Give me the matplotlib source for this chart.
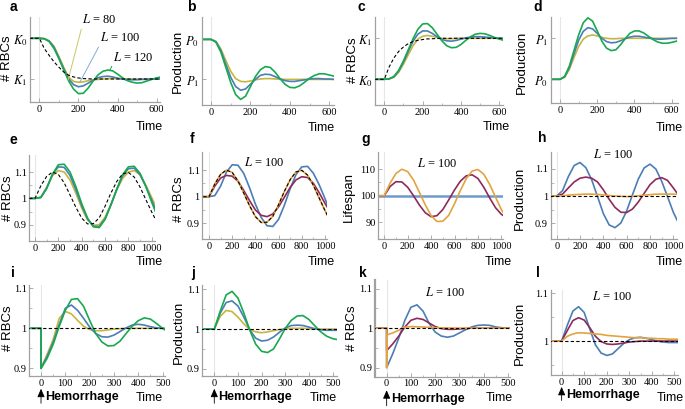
import matplotlib
matplotlib.use("Agg")
import matplotlib.pyplot as plt

W, H = 685, 409
plt.rcParams["font.family"] = "Liberation Serif"
plt.rcParams["mathtext.fontset"] = "stix"

YEL = "#c6b63e"
BLU = "#4b7db6"
GRN = "#18a94f"
ORA = "#e3a33e"
MAR = "#8d2a5b"

# ---------------- data ----------------
T600 = [-50, 0, 25, 50, 75, 100, 125, 150, 175, 200, 225, 250, 275, 300, 325,
        350, 375, 400, 425, 450, 475, 500, 525, 550, 575, 600, 625]

# a: RBCs after a step down in target (K0 -> K1 scaled to 1 -> 0)
a_dash = [1, 1, 0.75, 0.58, 0.42, 0.29, 0.17, 0.09, 0.05, 0.025, 0.01, 0.005, 0,
          0, 0, 0, 0, 0, 0, 0, 0, 0, 0, 0, 0, 0, 0]
a_green = [1, 1, 0.99, 0.92, 0.75, 0.5, 0.22, -0.05, -0.25, -0.36, -0.35, -0.22, -0.05,
           0.1, 0.19, 0.22, 0.2, 0.12, 0.03, -0.04, -0.08, -0.1, -0.09, -0.05, -0.01, 0.03, 0.05]
a_blue = [1, 1, 0.99, 0.93, 0.78, 0.52, 0.25, 0.0, -0.14, -0.19, -0.17, -0.1, -0.03,
          0.03, 0.06, 0.07, 0.05, 0.02, 0.0, -0.02, -0.02, -0.02, -0.01, -0.01, 0, 0, 0]
a_yellow = [1, 1, 0.99, 0.94, 0.8, 0.55, 0.28, 0.04, -0.06, -0.08, -0.07, -0.04, -0.02,
            -0.01, 0, 0.01, 0.01, 0.01, 0, 0, 0, 0, 0, 0, 0, 0, 0]

# b: production (P0 -> P1 scaled to 1 -> 0)
b_green = [1, 1, 0.93, 0.68, 0.3, -0.08, -0.38, -0.5, -0.42, -0.18, 0.07, 0.24, 0.32,
           0.3, 0.18, 0.02, -0.12, -0.2, -0.21, -0.16, -0.07, 0.03, 0.1, 0.14, 0.14, 0.11, 0.08]
b_blue = [1, 1, 0.94, 0.72, 0.38, 0.05, -0.18, -0.27, -0.24, -0.12, 0.0, 0.1, 0.13,
          0.12, 0.07, 0.01, -0.03, -0.05, -0.05, -0.03, -0.01, 0.01, 0.02, 0.02, 0.01, 0.01, 0]
b_yellow = [1, 1, 0.95, 0.76, 0.47, 0.2, 0.02, -0.05, -0.06, -0.04, -0.01, 0.01, 0.02,
            0.02, 0.01, 0.01, 0, 0, 0, 0, 0, 0, 0, 0, 0, 0, 0]

# c: RBCs after a step up (K0 -> K1 scaled to 0 -> 1)
c_dash = [0, 0, 0.3, 0.52, 0.68, 0.79, 0.87, 0.92, 0.95, 0.97, 0.985, 0.99, 0.995,
          1, 1, 1, 1, 1, 1, 1, 1, 1, 1, 1, 1, 1, 1]
c_green = [0, 0, 0.01, 0.07, 0.22, 0.45, 0.72, 0.99, 1.22, 1.35, 1.36, 1.26, 1.1,
           0.94, 0.82, 0.77, 0.78, 0.85, 0.95, 1.04, 1.1, 1.12, 1.11, 1.07, 1.02, 0.98, 0.95]
c_blue = [0, 0, 0.01, 0.06, 0.2, 0.42, 0.68, 0.93, 1.1, 1.18, 1.18, 1.12, 1.04,
          0.97, 0.94, 0.93, 0.95, 0.98, 1.01, 1.03, 1.04, 1.04, 1.03, 1.02, 1.01, 1.0, 1.0]
c_yellow = [0, 0, 0.01, 0.05, 0.17, 0.37, 0.6, 0.82, 0.98, 1.05, 1.07, 1.05, 1.02,
            1.0, 0.99, 0.99, 1, 1, 1, 1, 1, 1, 1, 1, 1, 1, 1]

# d: production (P0 -> P1 scaled to 0 -> 1)
d_green = [0, 0, 0.07, 0.32, 0.7, 1.08, 1.38, 1.5, 1.42, 1.18, 0.93, 0.76, 0.7,
           0.72, 0.84, 0.99, 1.12, 1.18, 1.18, 1.13, 1.05, 0.97, 0.91, 0.88, 0.88, 0.9, 0.93]
d_blue = [0, 0, 0.06, 0.28, 0.62, 0.95, 1.17, 1.26, 1.23, 1.12, 1.0, 0.92, 0.89,
          0.9, 0.94, 0.99, 1.03, 1.05, 1.05, 1.03, 1.01, 0.99, 0.98, 0.98, 0.99, 1.0, 1.0]
d_yellow = [0, 0, 0.05, 0.24, 0.53, 0.8, 0.98, 1.06, 1.08, 1.06, 1.02, 1.0, 0.99,
            0.99, 1.0, 1, 1, 1, 1, 1, 1, 1, 1, 1, 1, 1, 1]

T1000 = [-50, 0, 50, 100, 150, 200, 250, 300, 350, 400, 450, 500, 550, 600, 650,
         700, 750, 800, 850, 900, 950, 1000, 1050]

e_dash = [1, 1, 1.048, 1.084, 1.1, 1.091, 1.059, 1.013, 0.966, 0.925, 0.903, 0.904,
          0.926, 0.97, 1.02, 1.064, 1.093, 1.099, 1.081, 1.043, 0.995, 0.948, 0.905]
e_green = [1, 1, 1.003, 1.037, 1.092, 1.128, 1.13, 1.1, 1.045, 0.98, 0.925, 0.892,
           0.889, 0.92, 0.975, 1.035, 1.09, 1.12, 1.122, 1.095, 1.045, 0.985, 0.93]
e_blue = [1, 1, 1.004, 1.04, 1.092, 1.12, 1.118, 1.087, 1.033, 0.972, 0.922, 0.894,
          0.893, 0.922, 0.975, 1.033, 1.085, 1.113, 1.115, 1.09, 1.045, 0.993, 0.94]
e_yellow = [1, 1, 1.005, 1.042, 1.086, 1.106, 1.1, 1.07, 1.02, 0.963, 0.918, 0.898,
            0.9, 0.928, 0.977, 1.032, 1.076, 1.1, 1.106, 1.09, 1.05, 1.003, 0.955]

f_dash = e_dash
f_orange = [1, 1, 1.048, 1.084, 1.1, 1.091, 1.059, 1.013, 0.966, 0.925, 0.903, 0.904,
            0.926, 0.97, 1.02, 1.064, 1.093, 1.099, 1.081, 1.043, 0.995, 0.948, 0.905]
f_blue = [1, 1, 1.004, 1.04, 1.092, 1.12, 1.118, 1.087, 1.033, 0.972, 0.922, 0.891,
          0.888, 0.915, 0.968, 1.03, 1.083, 1.112, 1.114, 1.088, 1.045, 0.993, 0.94]
f_maroon = [1, 1, 1.04, 1.07, 1.08, 1.077, 1.058, 1.023, 0.985, 0.95, 0.93, 0.925,
            0.935, 0.962, 0.998, 1.035, 1.063, 1.075, 1.072, 1.05, 1.015, 0.975, 0.94]

g_orange = [100, 100, 104.8, 108.4, 110, 109.1, 105.9, 101.3, 96.6, 92.5, 90.3, 90.4,
            92.6, 97, 102, 106.4, 109.3, 109.9, 108.1, 104.3, 99.5, 94.8, 91.2]
g_maroon = [100, 100, 103.5, 105.3, 105.2, 103.2, 100, 96.5, 93.6, 92.1, 92.5, 94.8,
            98.4, 102.2, 105.5, 107.5, 107.9, 106.5, 103.2, 99.2, 95.5, 93.0, 91.5]
g_blue_t = [-50, 1050]
g_blue = [100, 100]

h_blue = [1, 1, 1.02, 1.072, 1.113, 1.124, 1.105, 1.06, 0.998, 0.935, 0.893, 0.883,
          0.9, 0.945, 1.005, 1.063, 1.104, 1.118, 1.1, 1.055, 0.998, 0.94, 0.895]
h_maroon = [1, 1, 1.007, 1.03, 1.052, 1.066, 1.07, 1.066, 1.052, 1.023, 0.988, 0.958,
            0.94, 0.939, 0.952, 0.978, 1.01, 1.042, 1.062, 1.068, 1.058, 1.03, 1.0]
h_orange = [1, 1, 1.001, 1.003, 1.005, 1.006, 1.007, 1.007, 1.006, 1.004, 1.002, 1.0,
            0.999, 0.998, 0.999, 1.001, 1.003, 1.005, 1.007, 1.007, 1.007, 1.007, 1.006]
flat_t = [-60, 1060]
flat_one = [1, 1]

# row 3: hemorrhage at t = 0 (drop listed twice at t = 0)
T500J = [-50, 0, 0, 25, 50, 75, 100, 125, 150, 175, 200, 225, 250, 275, 300, 325,
         350, 375, 400, 425, 450, 475, 500, 525]
T500 = [-50, 0, 25, 50, 75, 100, 125, 150, 175, 200, 225, 250, 275, 300, 325,
        350, 375, 400, 425, 450, 475, 500, 525]

i_green = [1, 1, 0.9, 0.925, 0.96, 1.005, 1.045, 1.072, 1.074, 1.055, 1.02, 0.987,
           0.966, 0.956, 0.957, 0.968, 0.987, 1.005, 1.019, 1.026, 1.023, 1.012, 1.0, 0.99]
i_blue = [1, 1, 0.9, 0.93, 0.965, 1.01, 1.05, 1.058, 1.045, 1.025, 1.003, 0.987,
          0.979, 0.978, 0.983, 0.992, 1.001, 1.008, 1.01, 1.008, 1.004, 1.001, 1.0, 0.999]
i_yellow = [1, 1, 0.9, 0.935, 0.972, 1.025, 1.042, 1.036, 1.02, 1.005, 0.997, 0.994,
            0.994, 0.996, 0.998, 0.999, 1, 1, 1, 1, 1, 1, 1, 1]

j_green = [1, 1, 1.045, 1.086, 1.095, 1.078, 1.04, 0.997, 0.962, 0.944, 0.941, 0.95,
           0.975, 1.002, 1.022, 1.033, 1.034, 1.024, 1.008, 0.993, 0.982, 0.976, 0.973]
j_blue = [1, 1, 1.04, 1.067, 1.071, 1.058, 1.03, 0.998, 0.977, 0.97, 0.972, 0.98,
          0.992, 1.003, 1.009, 1.01, 1.009, 1.005, 1.001, 0.998, 0.997, 0.997, 0.997]
j_yellow = [1, 1, 1.032, 1.047, 1.044, 1.03, 1.013, 0.999, 0.993, 0.991, 0.993, 0.996,
            0.999, 1.001, 1.002, 1.002, 1.002, 1.001, 1.001, 1.0, 1.0, 1.0, 1.0]

k_blue = [1, 1, 0.9, 0.935, 0.975, 1.02, 1.053, 1.059, 1.043, 1.012, 0.99, 0.98,
          0.977, 0.98, 0.988, 0.996, 1.003, 1.007, 1.008, 1.007, 1.003, 1.001, 1.0, 0.999]
k_maroon = [1, 1, 0.943, 0.96, 0.98, 1.003, 1.02, 1.025, 1.022, 1.013, 1.004, 0.999,
            0.997, 0.997, 0.998, 0.999, 1, 1, 1, 1, 1, 1, 1, 1]
k_orange_t = [-50, 0, 0, 2, 25, 50, 70, 100, 150, 200, 300, 525]
k_orange = [1, 1, 0.9, 0.983, 0.988, 0.995, 1.002, 1.004, 1.003, 1.001, 1.0, 1.0]

l_blue = [1, 1, 1.033, 1.063, 1.072, 1.06, 1.025, 0.992, 0.975, 0.97, 0.973, 0.984,
          0.995, 1.003, 1.007, 1.008, 1.006, 1.003, 1.0, 0.998, 0.997, 0.997, 0.997]
l_maroon = [1, 1, 1.022, 1.043, 1.049, 1.044, 1.028, 1.01, 0.999, 0.994, 0.993, 0.994,
            0.996, 0.998, 0.999, 1, 1, 1, 1, 1, 1, 1, 1]
l_orange = [1, 1, 1.01, 1.015, 1.0175, 1.017, 1.016, 1.015, 1.014, 1.012, 1.011, 1.01,
            1.009, 1.008, 1.007, 1.007, 1.006, 1.006, 1.005, 1.005, 1.004, 1.004, 1.004]

# ---------------- figure ----------------
fig = plt.figure(figsize=(W / 100, H / 100), dpi=100)


def rect(x0, x1, y0, y1):
    return [x0 / W, 1 - y1 / H, (x1 - x0) / W, (y1 - y0) / H]


def ftext(x, y, s, **kw):
    fig.text(x / W, 1 - y / H, s, **kw)


def panel(box, xlim, ylim, xticks, xminor, yticks, ylabels, yminor=()):
    ax = fig.add_axes(rect(*box))
    ax.patch.set_alpha(0)
    ax.set_xlim(xlim)
    ax.set_ylim(ylim)
    for s in ("top", "right"):
        ax.spines[s].set_visible(False)
    for s in ("left", "bottom"):
        ax.spines[s].set_color("#a0a0a0")
        ax.spines[s].set_linewidth(0.9)
    ax.set_xticks(xticks)
    ax.set_xticks(xminor, minor=True)
    ax.set_yticks(yticks)
    ax.set_yticklabels(ylabels)
    ax.set_yticks(list(yminor), minor=True)
    ax.tick_params(direction="in", length=3, width=0.6, color="#a0a0a0",
                   labelsize=7.5, pad=2)
    ax.tick_params(which="minor", direction="in", length=1.8, width=0.5,
                   color="#a0a0a0")
    ax.axvline(0, color="#e6e6e6", lw=0.8, zorder=0)
    return ax


def dashed(ax, t, v):
    ax.plot(t, v, color="black", lw=0.8, ls=(0, (3, 2)), zorder=5)


lw = 1.2
sans = "Liberation Sans"
X6 = [0, 200, 400, 600]
X6m = [100, 300, 500]
X10 = [0, 200, 400, 600, 800, 1000]
X10m = [100, 300, 500, 700, 900]
X5 = [0, 100, 200, 300, 400, 500]
X5m = [50, 150, 250, 350, 450]

# a
ax = panel((30, 160, 17, 102), (-48, 617), (-0.565, 1.523), X6, X6m,
           [0, 1], [r"$K_1$", r"$K_0$"])
ax.tick_params(axis="y", labelsize=9)
ax.plot(T600, a_yellow, color=YEL, lw=lw)
ax.plot(T600, a_blue, color=BLU, lw=lw)
ax.plot(T600, a_green, color=GRN, lw=lw)
dashed(ax, T600, a_dash)
for lab, xy, xyt, col in [("80", (147, -0.02), (218, 1.45), "#c9c760"),
                          ("100", (208, -0.07), (310, 1.01), "#86aad3"),
                          ("120", (361, 0.22), (377, 0.54), GRN)]:
    ax.annotate(r"$L$ = " + lab, xy=xy, xytext=xyt, fontsize=9, va="center",
                annotation_clip=False,
                arrowprops=dict(arrowstyle="-", color=col, lw=0.7, relpos=(0, 0),
                                shrinkA=0, shrinkB=0))

# b
ax = panel((202, 334, 17, 105), (-46, 624), (-0.64, 1.56), X6, X6m,
           [0, 1], [r"$P_1$", r"$P_0$"])
ax.tick_params(axis="y", labelsize=9)
ax.plot(T600, b_yellow, color=YEL, lw=lw)
ax.plot(T600, b_blue, color=BLU, lw=lw)
ax.plot(T600, b_green, color=GRN, lw=lw)

# c
ax = panel((375, 503, 17, 105), (-48.5, 619), (-0.627, 1.52), X6, X6m,
           [0, 1], [r"$K_0$", r"$K_1$"])
ax.tick_params(axis="y", labelsize=9)
ax.plot(T600, c_yellow, color=YEL, lw=lw)
ax.plot(T600, c_blue, color=BLU, lw=lw)
ax.plot(T600, c_green, color=GRN, lw=lw)
dashed(ax, T600, c_dash)

# d
ax = panel((551, 678, 17, 103), (-48.4, 634), (-0.578, 1.52), X6, X6m,
           [0, 1], [r"$P_0$", r"$P_1$"])
ax.tick_params(axis="y", labelsize=9)
ax.plot(T600, d_yellow, color=YEL, lw=lw)
ax.plot(T600, d_blue, color=BLU, lw=lw)
ax.plot(T600, d_green, color=GRN, lw=lw)

Y3 = [0.9, 1, 1.1]
Y3l = ["0.9", "1", "1.1"]
Y3m = [0.95, 1.05]

# e
ax = panel((29.3, 155, 155, 241), (-49, 1028), (0.838, 1.165), X10, X10m, Y3, Y3l, Y3m)
ax.plot(T1000, e_yellow, color=YEL, lw=lw)
ax.plot(T1000, e_blue, color=BLU, lw=lw)
ax.plot(T1000, e_green, color=GRN, lw=lw)
dashed(ax, T1000, e_dash)

# f
ax = panel((202.3, 326.7, 151.7, 239), (-58, 1015), (0.841, 1.169), X10, X10m, Y3, Y3l, Y3m)
ax.plot(T1000, f_blue, color=BLU, lw=lw)
ax.plot(T1000, f_maroon, color=MAR, lw=lw)
ax.plot(T1000, f_orange, color=ORA, lw=lw)
dashed(ax, T1000, f_dash)
ax.text(0.5, 0.88, r"$L$ = 100", transform=ax.transAxes, ha="center", va="center", fontsize=9)

# g
ax = panel((378.3, 503, 151.7, 239), (-51, 1014), (83.7, 116.6), X10, X10m,
           [90, 100, 110], ["90", "100", "110"], [95, 105])
ax.plot(g_blue_t, g_blue, color="#6d9bcb", lw=1.8)
ax.plot(T1000, g_maroon, color=MAR, lw=lw)
ax.plot(T1000, g_orange, color=ORA, lw=lw)
ax.text(0.47, 0.86, r"$L$ = 100", transform=ax.transAxes, ha="center", va="center", fontsize=9)

# h
ax = panel((550.7, 676.7, 151.7, 239), (-51.5, 1029), (0.841, 1.164), X10, X10m, Y3, Y3l, Y3m)
ax.plot(T1000, h_blue, color=BLU, lw=lw)
ax.plot(T1000, h_maroon, color=MAR, lw=lw)
ax.plot(T1000, h_orange, color=ORA, lw=lw)
dashed(ax, flat_t, flat_one)
ax.text(0.5, 0.97, r"$L$ = 100", transform=ax.transAxes, ha="center", va="center", fontsize=9)

# i
ax_i = panel((29.3, 165, 285, 376), (-48.2, 510), (0.881, 1.108), X5, X5m, Y3, Y3l, Y3m)
ax_i.plot(T500J, i_yellow, color=YEL, lw=lw)
ax_i.plot(T500J, i_blue, color=BLU, lw=lw)
ax_i.plot(T500J, i_green, color=GRN, lw=lw)
dashed(ax_i, flat_t, flat_one)

# j
ax_j = panel((202.3, 336.7, 285, 376), (-50.7, 517), (0.882, 1.111), X5, X5m, Y3, Y3l, Y3m)
ax_j.plot(T500, j_yellow, color=YEL, lw=lw)
ax_j.plot(T500, j_blue, color=BLU, lw=lw)
ax_j.plot(T500, j_green, color=GRN, lw=lw)
dashed(ax_j, flat_t, flat_one)

# k
ax_k = panel((375, 510, 280, 376.7), (-48, 508), (0.877, 1.122), X5, X5m, Y3, Y3l, Y3m)
ax_k.spines["left"].set_linewidth(1.6)
ax_k.plot(T500J, k_blue, color=BLU, lw=lw)
ax_k.plot(T500J, k_maroon, color=MAR, lw=lw)
ax_k.plot(k_orange_t, k_orange, color=ORA, lw=lw)
dashed(ax_k, flat_t, flat_one)
ax_k.text(0.52, 0.87, r"$L$ = 100", transform=ax_k.transAxes, ha="center", va="center", fontsize=9)

# l
ax_l = panel((550.7, 678, 290, 375), (-48.5, 516), (0.929, 1.107), X5, X5m,
             [1, 1.1], ["1", "1.1"], Y3m)
ax_l.plot(T500, l_blue, color=BLU, lw=lw)
ax_l.plot(T500, l_maroon, color=MAR, lw=lw)
ax_l.plot(T500, l_orange, color=ORA, lw=lw)
dashed(ax_l, flat_t, flat_one)
ax_l.text(0.48, 0.92, r"$L$ = 100", transform=ax_l.transAxes, ha="center", va="center", fontsize=9)

# hemorrhage arrows under row 3
for ax in (ax_i, ax_j, ax_k, ax_l):
    ax.annotate("", xy=(0, -0.14), xytext=(0, -0.3), xycoords=("data", "axes fraction"),
                textcoords=("data", "axes fraction"), annotation_clip=False,
                arrowprops=dict(arrowstyle="-|>,head_length=0.5,head_width=0.22",
                                color="black", lw=0.6, shrinkA=0, shrinkB=0))
    ax.annotate("Hemorrhage", xy=(0, -0.235), xycoords=("data", "axes fraction"),
                xytext=(3, 0), textcoords="offset points", ha="left", va="center",
                fontsize=9, fontweight="bold", family=sans, annotation_clip=False)

# panel letters
for lab, x, y in [("a", 13, 7), ("b", 191, 7), ("c", 361, 7), ("d", 538, 7),
                  ("e", 13, 140), ("f", 192, 139), ("g", 366, 139), ("h", 542, 138),
                  ("i", 13, 273), ("j", 193, 273), ("k", 363, 273), ("l", 538, 273)]:
    ftext(x, y, lab, family=sans, fontweight="bold", fontsize=10, ha="center", va="center")

# y labels
for lab, x, y in [("# RBCs", 7, 58), ("Production", 178, 61), ("# RBCs", 353, 60),
                  ("Production", 522, 62), ("# RBCs", 8, 198), ("# RBCs", 179, 199),
                  ("Lifespan", 349, 197), ("Production", 520, 198), ("# RBCs", 8, 328),
                  ("Production", 179, 332), ("# RBCs", 352, 328), ("Production", 520, 333)]:
    ftext(x, y, lab, family=sans, fontsize=9.5, rotation=90, ha="center", va="center")

# x labels
for x, y in [(163, 127), (335, 128), (510, 127), (683, 128),
             (163, 262), (335, 262), (512, 262), (683, 262),
             (163, 398), (337, 398), (513, 398), (684, 398)]:
    ftext(x, y, "Time", family=sans, fontsize=9, ha="right", va="center")

fig.savefig("out.png", dpi=100)
